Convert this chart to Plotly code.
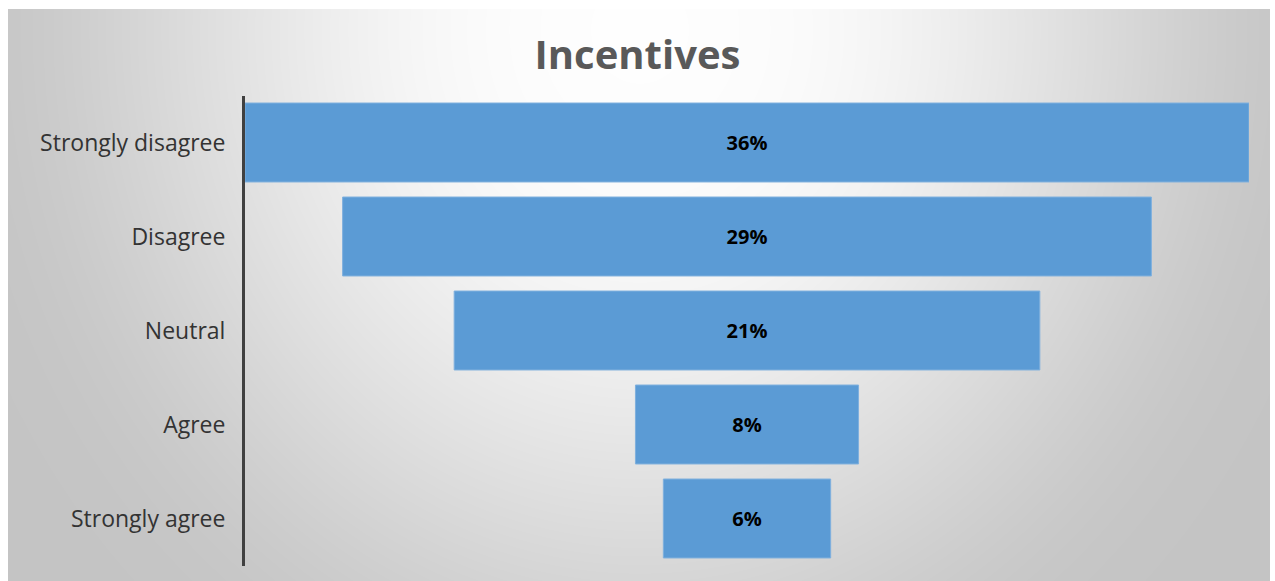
import base64
import struct
import zlib

import numpy as np
import plotly.graph_objects as go

# Survey responses for the "Incentives" question
categories = ["Strongly disagree", "Disagree", "Neutral", "Agree", "Strongly agree"]
shares = [36, 29, 21, 8, 6]
labels = [f"{v}%" for v in shares]

W, H = 1275, 581
FONT = "Open Sans"


def png_data_uri(rgb):
    """Encode an HxWx3 uint8 array as a PNG data URI."""
    h, w, _ = rgb.shape
    raw = b"".join(b"\x00" + rgb[r].tobytes() for r in range(h))

    def chunk(tag, data):
        body = tag + data
        return struct.pack(">I", len(data)) + body + struct.pack(">I", zlib.crc32(body) & 0xFFFFFFFF)

    png = b"\x89PNG\r\n\x1a\n"
    png += chunk(b"IHDR", struct.pack(">IIBBBBB", w, h, 8, 2, 0, 0, 0))
    png += chunk(b"IDAT", zlib.compress(raw, 9))
    png += chunk(b"IEND", b"")
    return "data:image/png;base64," + base64.b64encode(png).decode()


def soft_max0(u, k):
    """Smooth version of max(u, 0)."""
    return k * np.logaddexp(0.0, u / k)


# Radial grey backdrop for the chart area: white near the title, grey toward the edges
x0, y0, x1, y1 = 8, 9, 1270, 581
xs = np.arange(x0, x1) + 0.5
ys = np.arange(y0, y1) + 0.5
gx, gy = np.meshgrid(xs, ys)
dist = np.sqrt((gx - 640) ** 2 + ((gy - 30) / 1.1) ** 2)
darkening = soft_max0(0.00052 * dist - 0.10, 0.035)
darkening = 0.23 - soft_max0(0.23 - darkening, 0.02)
level = np.clip(1.0 - darkening, 0.0, 1.0)
grey = (level * 255).astype(np.uint8)
backdrop = np.stack([grey, grey, grey], axis=-1)

# Plot-area placement in pixels
px_left, px_right = 245, 1249
py_top, py_bottom = 95.5, 565.5

fig = go.Figure(
    go.Funnel(
        y=categories,
        x=shares,
        text=labels,
        textinfo="text",
        textposition="inside",
        insidetextanchor="middle",
        textfont=dict(family=FONT, size=20, color="#000000", weight="bold"),
        marker=dict(color="#5B9BD5", line=dict(color="#7FB0DE", width=1)),
        connector=dict(visible=False),
        hoverinfo="skip",
        cliponaxis=False,
    )
)

fig.update_layout(
    width=W,
    height=H,
    margin=dict(l=0, r=0, t=0, b=0),
    paper_bgcolor="#ffffff",
    plot_bgcolor="rgba(0,0,0,0)",
    showlegend=False,
    funnelgap=0.16,
    title=dict(
        text="Incentives",
        x=0.5,
        xanchor="center",
        y=1 - 55 / H,
        yanchor="middle",
        font=dict(family=FONT, size=40, color="#595959", weight="bold"),
    ),
    xaxis=dict(
        visible=False,
        range=[-18, 18],
        domain=[px_left / W, px_right / W],
        fixedrange=True,
    ),
    yaxis=dict(
        domain=[1 - py_bottom / H, 1 - py_top / H],
        range=[4.5, -0.5],
        showline=True,
        linecolor="#404040",
        linewidth=3,
        showgrid=False,
        zeroline=False,
        ticks="",
        ticklabelstandoff=12,
        tickfont=dict(family=FONT, size=23, color="#333333"),
        fixedrange=True,
    ),
    images=[
        dict(
            source=png_data_uri(backdrop),
            xref="paper",
            yref="paper",
            x=x0 / W,
            y=1 - y0 / H,
            sizex=(x1 - x0) / W,
            sizey=(y1 - y0) / H,
            xanchor="left",
            yanchor="top",
            sizing="stretch",
            layer="below",
        )
    ],
)

fig.write_html("out.html")
